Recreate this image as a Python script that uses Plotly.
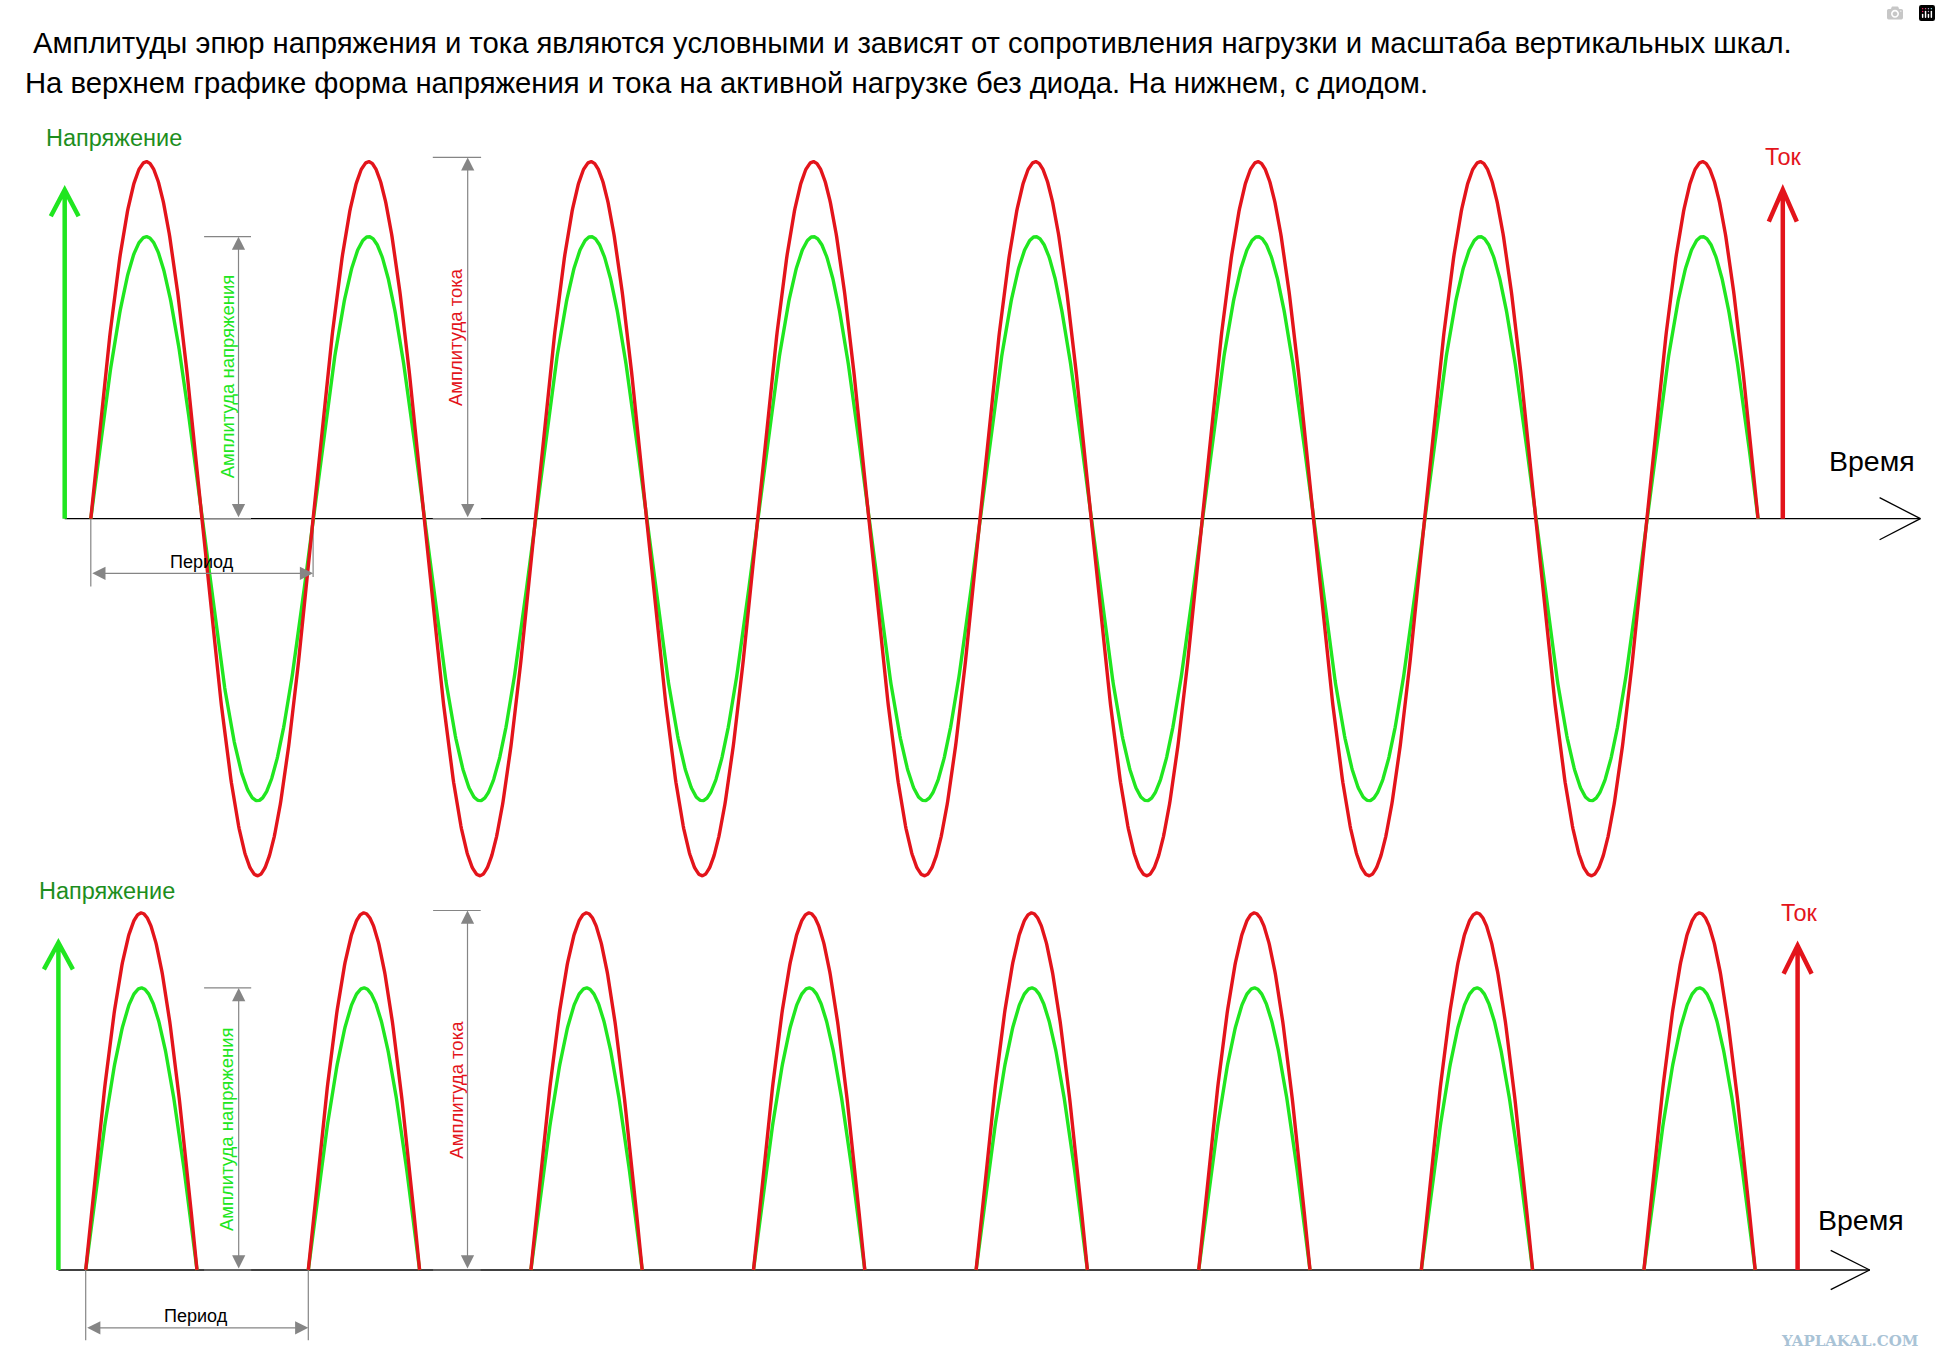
import numpy as np
import plotly.graph_objects as go

# ---- data ----
half_waves = 15            # 7.5 periods are drawn
current_amplitude = 1.0
voltage_amplitude = 0.79
title_lines = [
    "Амплитуды эпюр напряжения и тока являются условными и зависят от сопротивления нагрузки и масштаба вертикальных шкал.",
    "На верхнем графике форма напряжения и тока на активной нагрузке без диода. На нижнем, с диодом.",
]
voltage_label = "Напряжение"
current_label = "Ток"
time_label = "Время"
period_label = "Период"
volt_amp_label = "Амплитуда напряжения"
cur_amp_label = "Амплитуда тока"
watermark = "YAPLAKAL.COM"

# ---- geometry / style ----
W, H = 1941, 1372
PX_V = 357.0   # pixels per amplitude unit
RED = "#e3141b"
GREEN = "#20e620"
DARK_GREEN = "#1d8e1d"
GREY = "#858585"
FONT = "Liberation Sans, Arial, sans-serif"

t = np.linspace(0, half_waves / 2, 3001)
wave = np.sin(2 * np.pi * t)
rectified = np.where(wave > -1e-9, wave, np.nan)

# horizontal positions of the decorations are pixel offsets from the origin
panels = [
    dict(x0=90.8, y0=518.7, px_t=222.3, shape=wave,
         garrow=(-26.1, 0.921, 13.9, 0.847), rarrow=(1692.0, 0.922, 14.0, 0.832),
         axis_end=(1829.6, 1788.8, 0.059),
         vlabel=(23.0, 1.066), clabel=(1692.7, 1.014), tlabel=(1781.2, 0.162),
         vdim=(147.7, 113.3, 160.2), cdim=(376.9, 342.0, 390.3, 1.012),
         vtext=(136.9, 0.398), ctext=(365.3, 0.509),
         pdim=(-0.19, -0.163, -0.153), ptext=(0.498, -0.12)),
    dict(x0=85.7, y0=1270.0, px_t=222.6, shape=rectified,
         garrow=(-27.3, 0.917, 14.5, 0.842), rarrow=(1711.9, 0.909, 14.0, 0.83),
         axis_end=(1784.0, 1745.0, 0.055),
         vlabel=(21.2, 1.063), clabel=(1713.5, 1.0), tlabel=(1775.0, 0.14),
         vdim=(153.0, 118.4, 165.5), cdim=(381.8, 347.4, 395.0, 1.007),
         vtext=(141.0, 0.394), ctext=(370.6, 0.506),
         pdim=(-0.197, -0.197, -0.162), ptext=(0.495, -0.128)),
]

fig = go.Figure()
shapes, annotations = [], []

for i, p in enumerate(panels):
    xa = "x" if i == 0 else "x2"
    ya = "y" if i == 0 else "y2"
    k = p["px_t"]
    fig.add_trace(go.Scatter(x=t, y=voltage_amplitude * p["shape"], mode="lines",
                             line=dict(color=GREEN, width=3.4), xaxis=xa, yaxis=ya,
                             hoverinfo="skip", showlegend=False))
    fig.add_trace(go.Scatter(x=t, y=current_amplitude * p["shape"], mode="lines",
                             line=dict(color=RED, width=3.4), xaxis=xa, yaxis=ya,
                             hoverinfo="skip", showlegend=False))

    def line(x0, y0, x1, y1, color=GREY, width=1.2):
        shapes.append(dict(type="line", xref=xa, yref=ya, x0=x0, y0=y0, x1=x1, y1=y1,
                           line=dict(color=color, width=width), layer="below"))

    def text(x, y, s, color, size, angle=0):
        annotations.append(dict(xref=xa, yref=ya, x=x, y=y, text=s, showarrow=False,
                                xanchor="center", yanchor="middle", textangle=angle,
                                font=dict(family=FONT, size=size, color=color)))

    def dim(x0, y0, x1, y1):
        annotations.append(dict(xref=xa, yref=ya, axref=xa, ayref=ya, x=x1, y=y1, ax=x0, ay=y0,
                                text="", showarrow=True, arrowside="end+start", arrowhead=2,
                                arrowsize=2.2, arrowwidth=1.2, arrowcolor=GREY))

    # time axis with open arrow head
    gx = p["garrow"][0] / k
    end, wing_x, wing_y = p["axis_end"]
    end, wing_x = end / k, wing_x / k
    line(gx, 0, end, 0, "black", 1.3)
    line(wing_x, wing_y, end, 0, "black", 1.3)
    line(wing_x, -wing_y, end, 0, "black", 1.3)

    # vertical arrows
    for (ax_, tip, dx, wy), col in ((p["garrow"], GREEN), (p["rarrow"], RED)):
        ax_, dx = ax_ / k, dx / k
        shapes.append(dict(type="path", xref=xa, yref=ya, layer="below",
                           path=f"M{ax_},0 L{ax_},{tip} M{ax_ - dx},{wy} L{ax_},{tip} L{ax_ + dx},{wy}",
                           line=dict(color=col, width=4.5)))

    text(p["vlabel"][0] / k, p["vlabel"][1], voltage_label, DARK_GREEN, 23.5)
    text(p["clabel"][0] / k, p["clabel"][1], current_label, RED, 23.5)
    text(p["tlabel"][0] / k, p["tlabel"][1], time_label, "black", 28.5)

    # voltage amplitude dimension
    vx, vx0, vx1 = (v / k for v in p["vdim"])
    line(vx0, voltage_amplitude, vx1, voltage_amplitude)
    line(vx0, 0, vx1, 0)
    dim(vx, 0, vx, voltage_amplitude)
    text(p["vtext"][0] / k, p["vtext"][1], volt_amp_label, GREEN, 18.5, -90)

    # current amplitude dimension
    cx, cx0, cx1 = (v / k for v in p["cdim"][:3])
    ctop = p["cdim"][3]
    line(cx0, ctop, cx1, ctop)
    line(cx0, 0, cx1, 0)
    dim(cx, 0, cx, ctop)
    text(p["ctext"][0] / k, p["ctext"][1], cur_amp_label, RED, 18.5, -90)

    # period dimension (one period = 1 on the time axis)
    pb0, pb1, py = p["pdim"]
    line(0, 0, 0, pb0)
    line(1, 0, 1, pb1)
    dim(0, py, 1, py)
    text(*p["ptext"], period_label, "black", 18)

for j, s in enumerate(title_lines):
    annotations.append(dict(xref="paper", yref="paper", x=(31 if j == 0 else 23) / W,
                            y=1 - (43 if j == 0 else 83) / H, xanchor="left", yanchor="middle",
                            text=s, showarrow=False, font=dict(family=FONT, size=29.25, color="black")))
annotations.append(dict(xref="paper", yref="paper", x=1849 / W, y=1 - 1341 / H,
                        xanchor="center", yanchor="middle",
                        text=f"<b>{watermark}</b>", showarrow=False,
                        font=dict(family="DejaVu Serif, serif", size=15, color="#a9c3d6")))


def ranges(x0, y0, px_t):
    return [-x0 / px_t, (W - x0) / px_t], [-(H - y0) / PX_V, y0 / PX_V]


xr1, yr1 = ranges(panels[0]["x0"], panels[0]["y0"], panels[0]["px_t"])
xr2, yr2 = ranges(panels[1]["x0"], panels[1]["y0"], panels[1]["px_t"])
hidden = dict(visible=False, fixedrange=True, autorange=False)

fig.update_layout(
    width=W, height=H,
    margin=dict(l=0, r=0, t=0, b=0),
    paper_bgcolor="white", plot_bgcolor="white",
    xaxis=dict(range=xr1, domain=[0, 1], **hidden),
    yaxis=dict(range=yr1, domain=[0, 1], **hidden),
    xaxis2=dict(range=xr2, domain=[0, 1], overlaying="x", **hidden),
    yaxis2=dict(range=yr2, domain=[0, 1], overlaying="y", **hidden),
    shapes=shapes,
    annotations=annotations,
)

fig.write_html("out.html", post_script="document.body.style.margin='0';")
